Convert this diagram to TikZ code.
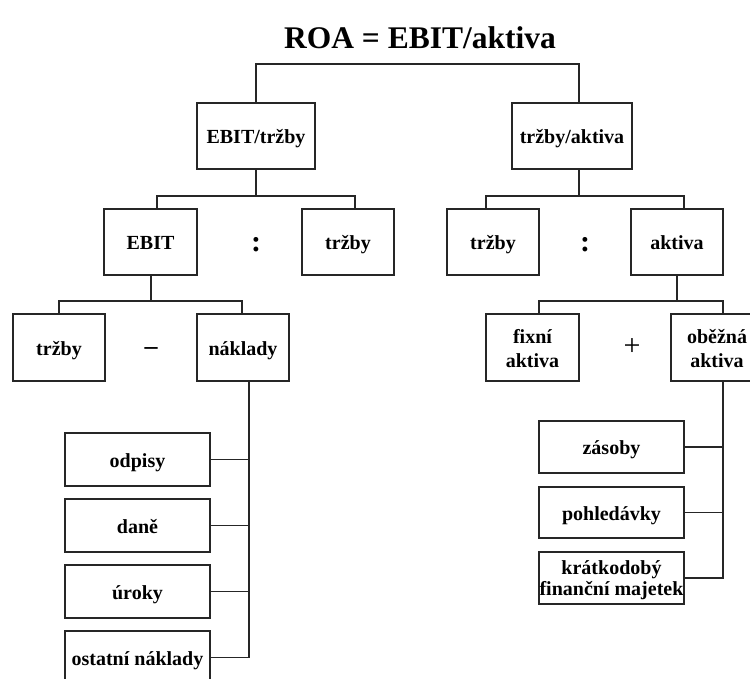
\documentclass[tikz,border=0pt]{standalone}
\usepackage{fontspec}
\setmainfont{Liberation Serif}
\begin{document}
\begin{tikzpicture}[x=1pt,y=-1pt,
  box/.style={draw=black!85,line width=1.2pt,minimum width=#1,inner sep=0pt,align=center,
    font=\fontsize{20}{22}\selectfont\bfseries},
  box/.default=92pt,
  one/.style={text height=15pt,text depth=0pt},
  op/.style={inner sep=0pt,font=\fontsize{30}{32}\selectfont\bfseries},
  link/.style={draw=black!85,line width=1.2pt}]
\useasboundingbox (0,0) rectangle (750,679);

% title
\node[inner sep=0pt,font=\fontsize{31.5}{34}\selectfont\bfseries] (title) at (420,38) {ROA = EBIT/aktiva};

% level 1
\node[box=118pt,one,minimum height=66pt] (ebitt) at (256,136) {EBIT/tržby};
\node[box=120pt,one,minimum height=66pt] (tpa) at (572,136) {tržby/aktiva};

% level 2
\node[box=93pt,one,minimum height=66pt] (ebit) at (150.5,242) {EBIT};
\node[box,one,minimum height=66pt] (trz1) at (348,242) {tržby};
\node[box,one,minimum height=66pt] (trz2) at (493,242) {tržby};
\node[box,one,minimum height=66pt] (akt) at (677,242) {aktiva};
\node[op] (div1) at (256,245) {:};
\node[op] (div2) at (585,245) {:};

% level 3
\node[box=93pt,minimum height=67pt,font=\fontsize{20}{24}\selectfont\bfseries] (fix) at (532.5,347.5) {\rule{0pt}{16pt}fixní\\aktiva};
\node[box,minimum height=67pt,font=\fontsize{20}{24}\selectfont\bfseries] (obez) at (717,347.5) {\rule{0pt}{16pt}oběžná\\aktiva};
\node[box,one,minimum height=67pt] (trz3) at (59,347.5) {tržby};
\node[box,one,minimum height=67pt] (nakl) at (243,347.5) {náklady};
\node[op,font=\fontsize{26}{28}\selectfont\bfseries] (minus) at (151,351) {–};
\node[op,font=\fontsize{30}{32}\selectfont] (plus) at (632,347) {+};

% cost items
\node[box=145pt,one,minimum height=53pt] (odpisy) at (137.5,459.5) {odpisy};
\node[box=145pt,one,minimum height=53pt] (dane) at (137.5,525.5) {daně};
\node[box=145pt,one,minimum height=53pt] (uroky) at (137.5,591.5) {úroky};
\node[box=145pt,one,minimum height=53pt] (ostatni) at (137.5,657.5) {ostatní náklady};

% current asset items
\node[box=145pt,one,minimum height=52pt] (zasoby) at (611.5,447) {zásoby};
\node[box=145pt,one,minimum height=51pt] (pohl) at (611.5,512.5) {pohledávky};
\node[box=145pt,minimum height=52pt,font=\fontsize{20}{21}\selectfont\bfseries] (krat) at (611.5,578) {\rule{0pt}{19pt}krátkodobý\\finanční majetek};

% bus junctions
\coordinate (topL) at (256,64);
\coordinate (topR) at (579,64);
\coordinate (b1) at (256,196);
\coordinate (b2) at (579,196);
\coordinate (b3) at (151,301);
\coordinate (b4) at (677,301);
\coordinate (nx) at (249,381);
\coordinate (ox) at (723,381);

% connectors
\draw[link] (ebitt.north) -- (topL) -- (topR) -- (tpa.north -| topR);
\draw[link] (ebitt.south) -- (b1);
\draw[link] (ebit.north -| 157,0) |- (b1) -| (trz1.north -| 355,0);
\draw[link] (tpa.south -| b2) -- (b2);
\draw[link] (trz2.north -| 486,0) |- (b2) -| (akt.north -| 684,0);
\draw[link] (ebit.south -| b3) -- (b3);
\draw[link] (trz3.north) |- (b3) -| (nakl.north -| 242,0);
\draw[link] (akt.south) -- (b4);
\draw[link] (fix.north -| 539,0) |- (b4) -| (obez.north -| 723,0);
\draw[link] (nx) |- (ostatni.east);
\draw[link] (odpisy.east) -- (odpisy.east -| nx);
\draw[link] (dane.east) -- (dane.east -| nx);
\draw[link] (uroky.east) -- (uroky.east -| nx);
\draw[link] (ox) |- (krat.east);
\draw[link] (zasoby.east) -- (zasoby.east -| ox);
\draw[link] (pohl.east) -- (pohl.east -| ox);
\end{tikzpicture}
\end{document}
